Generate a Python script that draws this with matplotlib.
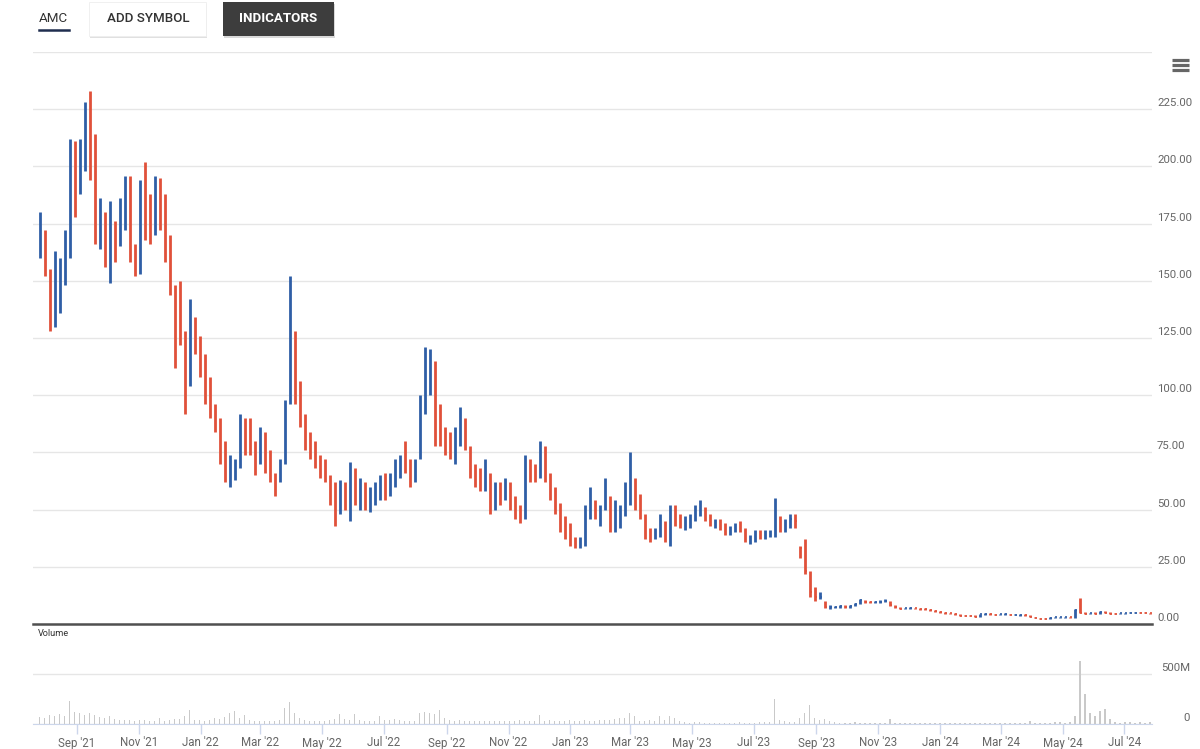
import pandas as pd
import matplotlib
matplotlib.use("Agg")
import matplotlib.pyplot as plt
import matplotlib.dates as mdates
from matplotlib.patches import Rectangle

plt.rcParams["font.family"] = ["Roboto", "DejaVu Sans"]

# --- data (one bar ~ every 5 calendar days) ---
high = [180, 172, 155, 163, 160, 172, 212, 211, 212, 228,
        233, 214, 186, 180, 185, 176, 186, 196, 196, 166,
        194, 202, 188, 196, 195, 188, 170, 148, 150, 128,
        142, 134, 126, 118, 108, 96, 90, 80, 74, 72,
        92, 90, 90, 80, 86, 84, 76, 66, 72, 98,
        152, 128, 106, 92, 84, 80, 74, 72, 65, 62,
        63, 62, 71, 68, 64, 62, 60, 62, 65, 66,
        66, 72, 74, 80, 72, 72, 100, 121, 120, 115,
        96, 86, 84, 86, 95, 90, 78, 70, 68, 72,
        66, 62, 62, 64, 62, 56, 52, 74, 72, 70,
        80, 78, 66, 60, 53, 47, 44, 38, 38, 52,
        60, 54, 52, 64, 56, 54, 52, 62, 75, 64,
        57, 48, 42, 42, 48, 45, 52, 52, 48, 47,
        48, 52, 54, 51, 48, 46, 46, 44, 43, 44,
        45, 42, 39, 41, 41, 41, 41, 55, 47, 46,
        48, 48, 34, 37, 23, 16, 14, 10, 8.5, 8,
        8.2, 8.3, 8.4, 9.2, 10.8, 10.6, 10, 10, 10.4, 11,
        10.2, 8.4, 7.4, 7.2, 7.4, 7.2, 7, 6.8, 6.6, 6.2,
        5.8, 5.2, 5, 4.8, 4.3, 4, 3.9, 3.8, 4.4, 4.8,
        4.6, 4.5, 4.4, 4.6, 4.4, 4.3, 4.3, 4.2, 4, 3,
        2.7, 2.6, 3, 3.2, 3.1, 3.2, 3.2, 6.5, 11.5, 5.2,
        5, 5.2, 5.6, 5.8, 5.2, 4.8, 4.8, 5, 5.2, 5.3,
        5.2, 5.2, 5]
low = [160, 152, 128, 130, 136, 148, 160, 178, 188, 198,
       194, 166, 164, 156, 149, 158, 165, 172, 158, 152,
       153, 168, 166, 170, 172, 158, 144, 112, 122, 92,
       104, 118, 108, 96, 90, 84, 70, 62, 60, 63,
       68, 74, 74, 65, 70, 66, 62, 56, 62, 70,
       96, 96, 86, 76, 72, 68, 64, 62, 52, 43,
       48, 50, 45, 52, 50, 50, 49, 52, 54, 54,
       56, 60, 64, 66, 60, 62, 72, 92, 100, 78,
       78, 74, 72, 70, 78, 76, 64, 60, 58, 58,
       48, 50, 52, 54, 50, 46, 44, 46, 62, 62,
       64, 62, 54, 48, 40, 37, 34, 33, 33, 34,
       46, 46, 43, 50, 40, 40, 42, 47, 52, 50,
       46, 37, 36, 37, 38, 36, 34, 43, 42, 41,
       42, 45, 47, 45, 43, 42, 41, 39, 39, 40,
       40, 36, 35, 36, 37, 37, 38, 38, 40, 40,
       42, 42, 29, 22, 12, 10, 11, 7, 6.5, 6.8,
       7, 7.1, 7.2, 7.8, 8.6, 9.2, 9, 9, 9.2, 9.4,
       8, 7.2, 6.4, 6.4, 6.5, 6.4, 6.2, 6, 5.8, 5.4,
       5, 4.5, 4.3, 4, 3.5, 3.4, 3.3, 3, 3.2, 4,
       4, 3.9, 3.8, 3.9, 3.8, 3.8, 3.7, 3.6, 3, 2.5,
       2.2, 2.1, 2.3, 2.6, 2.7, 2.7, 2.7, 2.8, 4.6, 4.2,
       4.2, 4.3, 4.4, 4.6, 4.3, 4.2, 4.2, 4.4, 4.6, 4.7,
       4.6, 4.6, 4.5]
close = [166, 155, 134, 145, 152, 163, 205, 190, 205, 222,
         210, 172, 175, 160, 170, 165, 180, 190, 162, 157,
         185, 178, 175, 190, 180, 162, 148, 130, 128, 110,
         132, 124, 114, 100, 96, 88, 76, 66, 66, 68,
         86, 80, 78, 72, 80, 70, 64, 60, 70, 96,
         128, 102, 90, 80, 76, 72, 68, 64, 58, 48,
         58, 55, 60, 56, 60, 54, 56, 58, 62, 58,
         62, 70, 72, 70, 64, 70, 98, 106, 110, 84,
         82, 80, 76, 84, 88, 80, 68, 64, 62, 64,
         54, 58, 56, 60, 54, 48, 46, 68, 66, 65,
         74, 64, 56, 50, 42, 40, 36, 35, 35, 48,
         52, 50, 50, 55, 44, 45, 48, 58, 58, 54,
         48, 40, 39, 40, 46, 38, 48, 46, 44, 45,
         47, 50, 50, 47, 44, 44, 42, 40, 41, 43,
         42, 37, 37, 40, 39, 39, 39, 46, 42, 44,
         46, 45, 33, 23, 14, 12, 12, 7.5, 7.5, 7.5,
         7.8, 7.4, 8, 8.8, 10.4, 9.6, 9.4, 9.6, 9.8, 10.2,
         8.2, 7.4, 6.6, 6.8, 7, 6.8, 6.5, 6.4, 6, 5.6,
         5.2, 4.7, 4.6, 4.2, 3.7, 3.6, 3.5, 3.2, 4.2, 4.4,
         4.2, 4.1, 4.2, 4.2, 4, 4, 4, 3.9, 3.2, 2.6,
         2.4, 2.3, 2.8, 2.9, 2.9, 3, 2.9, 6.2, 5, 4.5,
         4.6, 4.5, 5.2, 5, 4.5, 4.4, 4.6, 4.8, 5, 5,
         4.9, 4.8, 4.7]
volume_m = [70, 60, 95, 85, 100, 80, 227, 120, 115, 95,
            110, 90, 75, 60, 85, 50, 45, 40, 45, 35,
            45, 40, 35, 30, 60, 35, 40, 50, 55, 77,
            137, 45, 40, 35, 45, 60, 50, 75, 115, 127,
            60, 93, 45, 35, 33, 30, 35, 33, 40, 160,
            220, 110, 60, 45, 35, 30, 27, 30, 40, 55,
            100, 50, 45, 100, 45, 35, 30, 35, 77, 45,
            40, 50, 45, 35, 30, 35, 110, 120, 115, 100,
            143, 60, 40, 35, 45, 30, 30, 28, 30, 35,
            27, 30, 32, 28, 30, 35, 40, 30, 33, 35,
            93, 35, 40, 30, 35, 33, 40, 30, 35, 40,
            32, 35, 38, 45, 40, 50, 60, 65, 110, 80,
            35, 30, 40, 35, 77, 40, 83, 60, 30, 25,
            15, 18, 20, 15, 12, 10, 15, 12, 12, 15,
            18, 15, 12, 15, 18, 20, 20, 253, 45, 30,
            25, 25, 60, 110, 193, 60, 40, 50, 30, 20,
            15, 12, 15, 18, 12, 10, 15, 12, 14, 10,
            50, 15, 12, 10, 14, 12, 10, 15, 12, 10,
            12, 10, 15, 12, 10, 8, 12, 10, 8, 12,
            10, 12, 8, 10, 12, 10, 8, 12, 35, 15,
            12, 10, 15, 18, 20, 15, 18, 80, 627, 303,
            110, 80, 133, 150, 50, 20, 15, 18, 20, 15,
            25, 15, 18]
price_ticks = [0, 25, 50, 75, 100, 125, 150, 175, 200, 225, 250]
volume_ticks = [0, 500]

dates = pd.date_range("2021-07-26", "2024-07-26", periods=len(close))
xnum = mdates.date2num(dates)

UP = "#2f5ea6"
DOWN = "#e0513a"
colors = [UP if i == 0 or close[i] >= close[i - 1] else DOWN
          for i in range(len(close))]

fig = plt.figure(figsize=(12, 7.49), dpi=100)
fig.patch.set_facecolor("white")

W, H = 1200, 749
def box(x0, y0, x1, y1):
    return [x0 / W, 1 - y1 / H, (x1 - x0) / W, (y1 - y0) / H]

xlim = (mdates.date2num(pd.Timestamp("2021-07-19 14:00")),
        mdates.date2num(pd.Timestamp("2024-07-28 05:00")))

# --- price pane ---
ax = fig.add_axes(box(33, 52, 1152, 624))
ax.vlines(xnum, low, high, colors=colors, linewidth=2.0)
ax.hlines(close, xnum, xnum + 1.8, colors=colors, linewidth=1.2)
ax.set_xlim(xlim)
ax.set_ylim(0, 250)
ax.set_yticks(price_ticks)
ax.yaxis.grid(True, color="#e6e6e6", linewidth=1)
ax.set_axisbelow(True)
ax.tick_params(left=False, bottom=False, labelleft=False, labelbottom=False)
for s in ["top", "left", "right"]:
    ax.spines[s].set_visible(False)
ax.spines["bottom"].set_color("#505050")
ax.spines["bottom"].set_linewidth(1.8)
for v in price_ticks[:-1]:
    ax.text(1.0045, v + 2.6, f"{v:.2f}", transform=ax.get_yaxis_transform(),
            ha="left", va="center", fontsize=8.2, color="#666666")

# --- volume pane ---
axv = fig.add_axes(box(33, 640, 1152, 724))
axv.bar(xnum, volume_m, width=1.6, color="#c9c9c9", linewidth=0)
axv.set_xlim(xlim)
axv.set_ylim(0, 840)
axv.set_yticks(volume_ticks)
axv.yaxis.grid(True, color="#e6e6e6", linewidth=1)
axv.set_axisbelow(True)
axv.tick_params(left=False, labelleft=False)
for s in ["top", "left", "right"]:
    axv.spines[s].set_visible(False)
axv.spines["bottom"].set_color("#ccd6eb")
axv.xaxis.set_major_locator(mdates.MonthLocator(bymonth=[1, 3, 5, 7, 9, 11]))
axv.xaxis.set_major_formatter(mdates.DateFormatter("%b '%y"))
axv.tick_params(axis="x", colors="#ccd6eb", length=7, width=1, labelcolor="#666666",
                labelsize=8.3, pad=2)
for v, lab in zip(volume_ticks, ["0", "500M"]):
    axv.text(1.0340, v + 60, lab, transform=axv.get_yaxis_transform(),
             ha="right", va="center", fontsize=8.2, color="#666666")

# --- header / overlay ---
ov = fig.add_axes([0, 0, 1, 1], zorder=5)
ov.set_xlim(0, W)
ov.set_ylim(H, 0)
ov.axis("off")
ov.patch.set_alpha(0)

ov.text(39, 19, "AMC", ha="left", va="center", fontsize=9.6, color="#333333")
ov.plot([39, 69], [29.5, 29.5], color="#1f2d4f", linewidth=1.8)

ov.add_patch(Rectangle((90, 4), 117, 34, facecolor="#000000", alpha=0.12, linewidth=0))
ov.add_patch(Rectangle((89, 2), 117, 34, facecolor="white", edgecolor="#eeeeee", linewidth=0.6))
ov.text(148, 19, "ADD SYMBOL", ha="center", va="center", fontsize=9.6,
        color="#333333", fontweight="medium")

ov.add_patch(Rectangle((224, 4), 111, 34, facecolor="#000000", alpha=0.15, linewidth=0))
ov.add_patch(Rectangle((223, 2), 111, 34, facecolor="#3d3d3d", linewidth=0))
ov.text(278, 19, "INDICATORS", ha="center", va="center", fontsize=9.6,
        color="white", fontweight="bold")

for yy in [59.5, 64.5, 69.5]:
    ov.plot([1172, 1189], [yy, yy], color="#666666", linewidth=2.3,
            solid_capstyle="butt")

ov.text(38, 633, "Volume", ha="left", va="center", fontsize=6.6, color="#333333")

fig.savefig("out.png", dpi=100, facecolor="white")
